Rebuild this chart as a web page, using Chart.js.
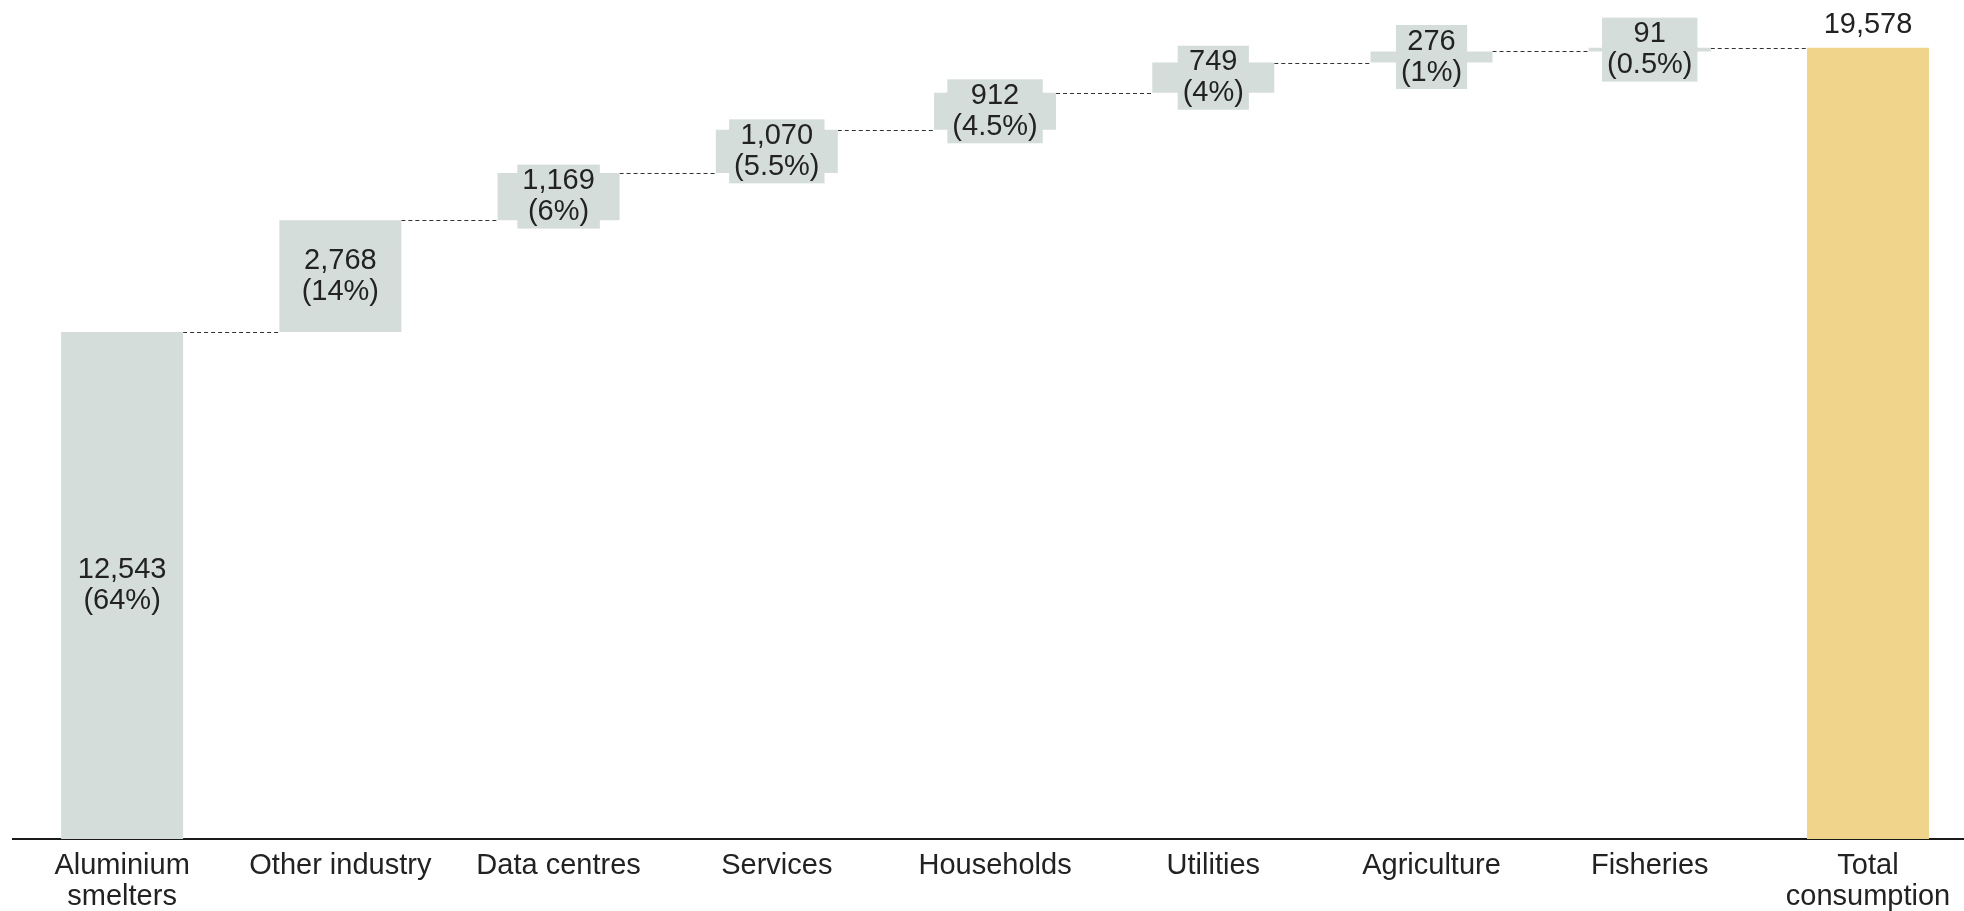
<!DOCTYPE html>
<html>
<head>
<meta charset="utf-8">
<script src="https://cdn.jsdelivr.net/npm/chart.js@4/dist/chart.umd.min.js"></script>
<style>
  html, body { margin: 0; padding: 0; background: #ffffff; }
  #wrap { width: 1964px; height: 911px; position: relative; }
</style>
</head>
<body>
<div id="wrap"><canvas id="chart"></canvas></div>
<script>
// Electricity consumption by sector (GWh), built up as a waterfall
const categories = [
  ['Aluminium', 'smelters'], 'Other industry', 'Data centres', 'Services',
  'Households', 'Utilities', 'Agriculture', 'Fisheries', ['Total', 'consumption']
];
const increments = [12543, 2768, 1169, 1070, 912, 749, 276, 91];
const shares = ['64%', '14%', '6%', '5.5%', '4.5%', '4%', '1%', '0.5%'];
const total = 19578;

const FONT = '"Liberation Sans", Arial, Helvetica, sans-serif';
const TEXT = '#222222';
const GREY = '#d5dddA';
const GOLD = '#f0d48b';

// floating ranges: each sector starts where the previous one ended
const floating = [];
let running = 0;
increments.forEach((v, i) => {
  floating.push({ x: i, y: [running, running + v] });
  running += v;
});
floating.push({ x: increments.length, y: [0, total] });

const barColors = floating.map((_, i) => i === increments.length ? GOLD : GREY);
const fmt = v => v.toLocaleString('en-US');

// dashed steps linking the top of one bar to the start of the next
const connectors = {
  id: 'connectors',
  beforeDatasetsDraw(chart) {
    const meta = chart.getDatasetMeta(0);
    const ctx = chart.ctx;
    ctx.save();
    ctx.strokeStyle = '#333333';
    ctx.lineWidth = 1;
    ctx.setLineDash([4, 3]);
    for (let i = 0; i < meta.data.length - 1; i++) {
      const a = meta.data[i].getProps(['x', 'y', 'width'], true);
      const b = meta.data[i + 1].getProps(['x', 'width'], true);
      const yy = Math.round(a.y) + 0.5;
      ctx.beginPath();
      ctx.moveTo(a.x + a.width / 2, yy);
      ctx.lineTo(b.x - b.width / 2, yy);
      ctx.stroke();
    }
    ctx.restore();
  }
};

// value and share labels, on a patch of the bar colour
const valueLabels = {
  id: 'valueLabels',
  afterDatasetsDraw(chart) {
    const meta = chart.getDatasetMeta(0);
    const ctx = chart.ctx;
    const lineH = 31;
    ctx.save();
    ctx.font = '29px ' + FONT;
    ctx.textAlign = 'center';
    ctx.textBaseline = 'middle';
    meta.data.forEach((bar, i) => {
      const p = bar.getProps(['x', 'y', 'base', 'width'], true);
      if (i === increments.length) {
        ctx.fillStyle = TEXT;
        ctx.textBaseline = 'bottom';
        ctx.fillText(fmt(total), p.x, p.y - 8);
        ctx.textBaseline = 'middle';
        return;
      }
      const lines = [fmt(increments[i]), '(' + shares[i] + ')'];
      const cy = (p.y + p.base) / 2;
      const w = Math.max(...lines.map(l => ctx.measureText(l).width)) + 10;
      const h = lines.length * lineH + 2;
      ctx.fillStyle = GREY;
      ctx.fillRect(p.x - w / 2, cy - h / 2, w, h);
      ctx.fillStyle = TEXT;
      lines.forEach((l, j) => {
        ctx.fillText(l, p.x, cy + (j - (lines.length - 1) / 2) * lineH);
      });
    });
    ctx.restore();
  }
};

new Chart(document.getElementById('chart'), {
  type: 'bar',
  data: {
    datasets: [{
      data: floating,
      backgroundColor: barColors,
      borderWidth: 0,
      barPercentage: 0.559,
      categoryPercentage: 1.0
    }]
  },
  options: {
    responsive: true,
    maintainAspectRatio: false,
    animation: false,
    layout: { padding: { left: 13, right: 0, top: 0, bottom: 0 } },
    plugins: { legend: { display: false }, tooltip: { enabled: false } },
    scales: {
      x: {
        type: 'linear',
        offset: false,
        min: -0.5,
        max: 8.44,
        afterBuildTicks(scale) {
          scale.ticks = categories.map((_, i) => ({ value: i }));
        },
        afterFit(scale) { scale.height = 72; },
        grid: { display: false, drawTicks: false },
        border: { display: true, color: '#1a1a1a', width: 2 },
        ticks: {
          autoSkip: false,
          maxRotation: 0,
          padding: 12,
          color: TEXT,
          font: { family: FONT, size: 29, lineHeight: 1.05 },
          callback: v => categories[v]
        }
      },
      y: {
        display: false,
        min: 0,
        max: 20760
      }
    }
  },
  plugins: [connectors, valueLabels]
});
</script>
</body>
</html>
